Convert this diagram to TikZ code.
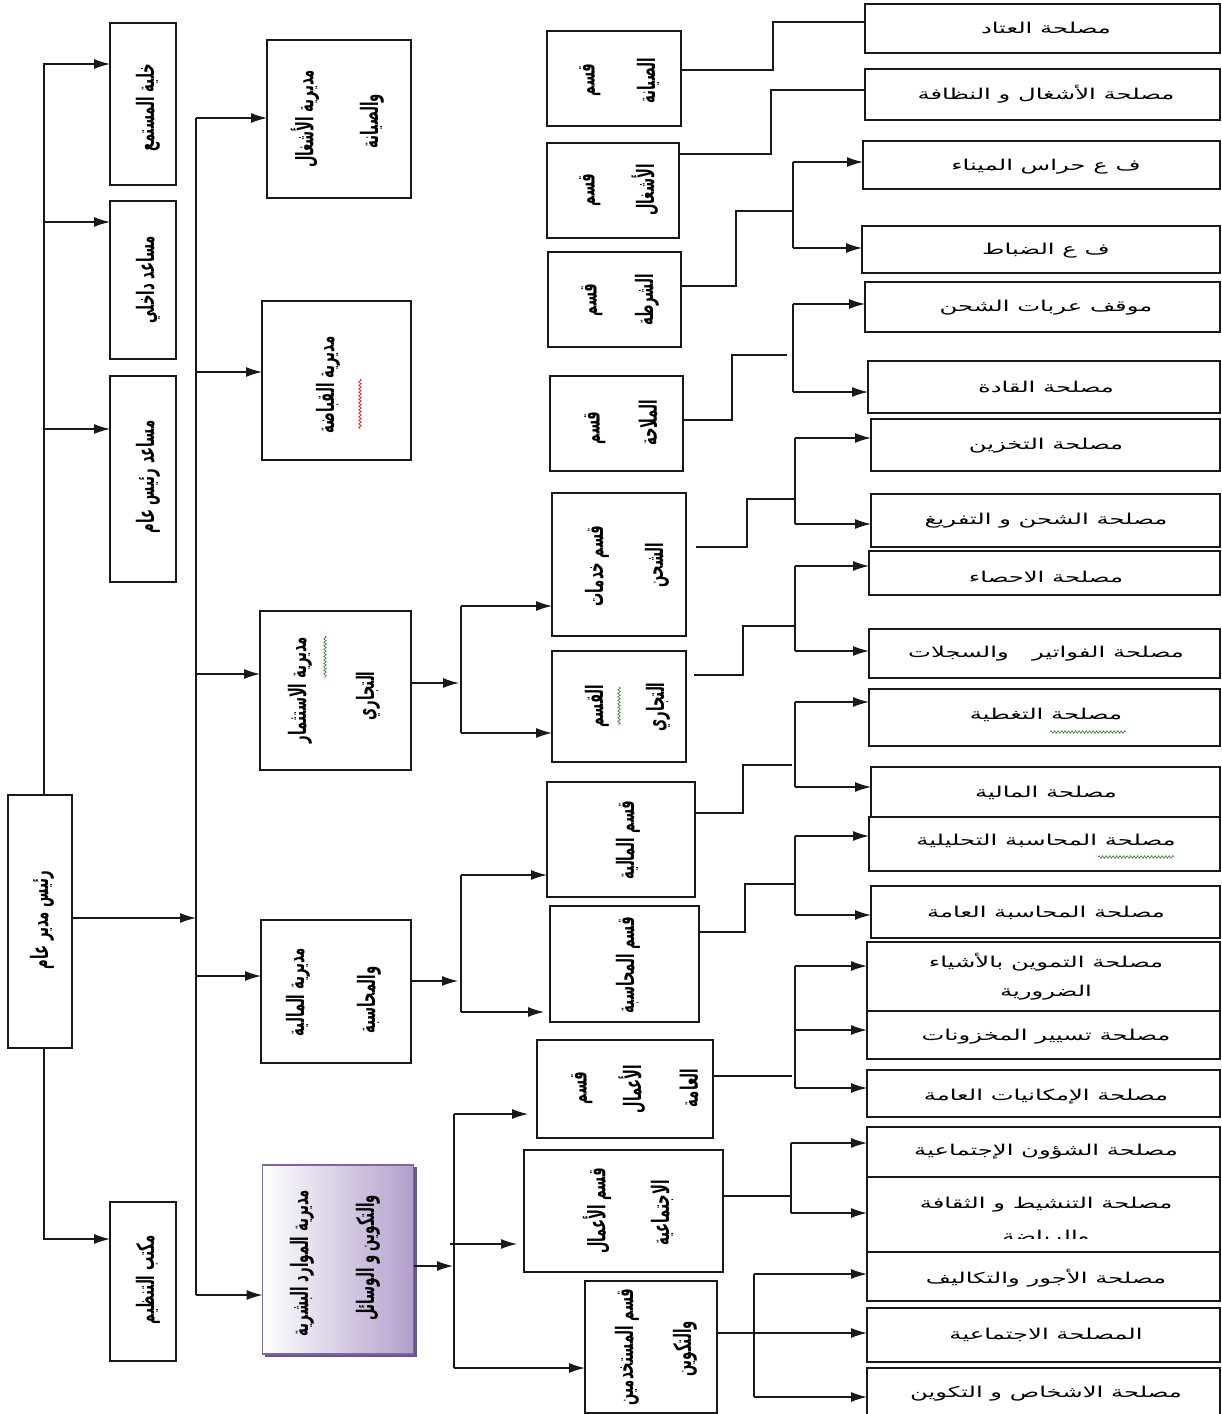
\documentclass[tikz,border=0pt]{standalone}
\usepackage{fontspec}
\usetikzlibrary{arrows.meta,decorations.pathmorphing}
\TeXXeTstate=1
\newfontfamily\arwide[Script=Arabic,FakeStretch=1.62]{DejaVu Sans}
\newfontfamily\arcond[Script=Arabic,FakeStretch=0.55]{DejaVu Sans}
\newcommand{\artxt}[1]{\beginR #1\endR}
\definecolor{linec}{RGB}{25,25,25}
\definecolor{purpfill}{RGB}{178,160,204}
\definecolor{purpedge}{RGB}{128,100,162}
\definecolor{wavegreen}{RGB}{40,130,40}
\tikzset{
  box/.style={draw=linec, line width=1.3pt, inner sep=0pt, outer sep=0pt, fill=white},
  conn/.style={draw=linec, line width=1.2pt},
  arr/.style={conn, -{Latex[length=16pt,width=10pt]}},
  vt/.style={rotate=90, inner sep=0pt, font=\arcond\bfseries\fontsize{24}{28}\selectfont},
  ht/.style={inner sep=0pt, font=\arwide\fontsize{15}{18}\selectfont},
  wavy/.style={decorate, decoration={snake, amplitude=1.3pt, segment length=3.5pt}, line width=0.6pt}
}
% \orgbox{name}{x1}{y1}{x2}{y2}
\newcommand{\orgbox}[5]{\node[box, minimum width={(#4)-(#2)}, minimum height={(#5)-(#3)}] (#1) at ({((#2)+(#4))/2},{((#3)+(#5))/2}) {};}
\begin{document}
\begin{tikzpicture}[x=1pt,y=-1pt]
\useasboundingbox (0,0) rectangle (1222,1414);
\fill[white] (0,0) rectangle (1222,1414);

% ---------- left column ----------
\orgbox{b1}{110}{23}{176}{185}
\orgbox{b2}{110}{201}{176}{359}
\orgbox{b3}{110}{376}{176}{582}
\orgbox{b4}{110}{1202}{176}{1361}
\orgbox{ceo}{8}{795}{72}{1048}
\node[vt] (tb1) at (148,108) {\artxt{خلية المستمع}};
\node[vt] (tb2) at (148,280) {\artxt{مساعد داخلي}};
\node[vt] (tb3) at (148,477) {\artxt{مساعد رئيس عام}};
\node[vt] (tb4) at (148,1280) {\artxt{مكتب التنظيم}};
\node[vt] (tceo) at (42,920) {\artxt{رئيس مدير عام}};

\coordinate (lb) at (44,0);
\draw[arr] (ceo.north -| lb) |- (b1.west |- 0,64);
\draw[arr] (44,222) -- (b2.west |- 0,222);
\draw[arr] (44,429) -- (b3.west |- 0,429);
\draw[arr] (ceo.south -| lb) |- (b4.west |- 0,1239);

% ---------- directorates ----------
\orgbox{d1}{267}{40}{411}{198}
\orgbox{d2}{262}{301}{411}{460}
\orgbox{d3}{260}{611}{411}{770}
\orgbox{d4}{261}{920}{411}{1063}
\fill[purpedge!85!black] (265,1167) rectangle (417,1357);
\node[draw=purpedge, line width=1.3pt, inner sep=0pt, outer sep=0pt,
      left color=white, right color=purpfill, minimum width=151, minimum height=189]
      (d5) at (338,1259.5) {};

\node[vt] (td1a) at (305,119) {\artxt{مديرية الأشغال}};
\node[vt] (td1b) at (372,121) {\artxt{والصيانة}};
\node[vt] (td2) at (328,385) {\artxt{مديرية القباضة}};
\draw[wavy, red] (360,379) -- (360,429);
\node[vt] (td3a) at (300,690) {\artxt{مديرية الاستثمار}};
\node[vt] (td3b) at (368,696) {\artxt{التجاري}};
\draw[wavy, wavegreen] (325,636) -- (325,678);
\node[vt] (td4a) at (298,992) {\artxt{مديرية المالية}};
\node[vt] (td4b) at (369,1000) {\artxt{والمحاسبة}};
\node[vt] (td5a) at (302,1263) {\artxt{مديرية الموارد البشرية}};
\node[vt] (td5b) at (368,1258) {\artxt{والتكوين و الوسائل}};

\draw[arr] (ceo.east |- 0,918) -- (196,918);
\coordinate (bustop) at (196,118);
\coordinate (busbot) at (196,1295);
\draw[conn] (bustop) -- (busbot);
\draw[arr] (bustop) -- (d1.west |- bustop);
\draw[arr] (196,372) -- (d2.west |- 0,372);
\draw[arr] (196,674) -- (d3.west |- 0,674);
\draw[arr] (196,976) -- (d4.west |- 0,976);
\draw[arr] (busbot) -- (d5.west |- busbot);

% ---------- sections ----------
\orgbox{m1}{547}{31}{681}{126}
\orgbox{m2}{547}{143}{679}{238}
\orgbox{m3}{548}{252}{681}{347}
\orgbox{m4}{550}{376}{683}{471}
\orgbox{m5}{552}{493}{686}{636}
\orgbox{m6}{552}{651}{686}{762}
\orgbox{m7}{547}{782}{695}{897}
\orgbox{m8}{550}{906}{699}{1022}
\orgbox{m9}{537}{1040}{713}{1138}
\orgbox{m10}{524}{1150}{723}{1272}
\orgbox{m11}{585}{1281}{717}{1413}

\node[vt] (tm1a) at (590,80) {\artxt{قسم}};
\node[vt] (tm1b) at (648,81) {\artxt{الصيانة}};
\node[vt] (tm2a) at (590,190) {\artxt{قسم}};
\node[vt] (tm2b) at (645,190) {\artxt{الأشغال}};
\node[vt] (tm3a) at (592,300) {\artxt{قسم}};
\node[vt] (tm3b) at (647,300) {\artxt{الشرطة}};
\node[vt] (tm4a) at (595,428) {\artxt{قسم}};
\node[vt] (tm4b) at (648,423) {\artxt{الملاحة}};
\node[vt] (tm5a) at (597,566) {\artxt{قسم خدمات}};
\node[vt] (tm5b) at (657,565) {\artxt{الشحن}};
\node[vt] (tm6a) at (597,706) {\artxt{القسم}};
\node[vt] (tm6b) at (658,707) {\artxt{التجاري}};
\draw[wavy, wavegreen] (619,687) -- (619,725);
\node[vt] (tm7) at (628,840) {\artxt{قسم المالية}};
\node[vt] (tm8) at (628,965) {\artxt{قسم المحاسبة}};
\node[vt] (tm9a) at (582,1088) {\artxt{قسم}};
\node[vt] (tm9b) at (632,1089) {\artxt{الأعمال}};
\node[vt] (tm9c) at (689,1088) {\artxt{العامة}};
\node[vt] (tm10a) at (597,1211) {\artxt{قسم الأعمال}};
\node[vt] (tm10b) at (662,1213) {\artxt{الاجتماعية}};
\node[vt] (tm11a) at (627,1347) {\artxt{قسم المستخدمين}};
\node[vt] (tm11b) at (685,1349) {\artxt{والتكوين}};

% directorate -> sections
\draw[arr] (d3.east |- 0,683) -- (459,683);
\draw[conn] (461,606) -- (461,733);
\draw[arr] (461,606) -- (m5.west |- 0,606);
\draw[arr] (461,733) -- (m6.west |- 0,733);
\draw[arr] (d4.east |- 0,981) -- (458,981);
\draw[conn] (461,875) -- (461,1012);
\draw[arr] (461,875) -- (m7.west |- 0,875);
\draw[arr, shorten >=6pt] (461,1012) -- (m8.west |- 0,1012);
\draw[arr] (d5.east |- 0,1266) -- (453,1266);
\draw[conn] (454,1114) -- (454,1368);
\draw[arr, shorten >=9pt] (454,1114) -- (m9.west |- 0,1114);
\draw[arr, shorten >=7pt] (450,1244) -- (m10.west |- 0,1244);
\draw[arr] (454,1368) -- (m11.west |- 0,1368);

% ---------- services ----------
\orgbox{r1}{865}{4}{1220}{53}
\orgbox{r2}{865}{69}{1220}{120}
\orgbox{r3}{863}{141}{1220}{189}
\orgbox{r4}{862}{226}{1220}{273}
\orgbox{r5}{865}{282}{1220}{332}
\orgbox{r6}{868}{361}{1220}{413}
\orgbox{r7}{871}{419}{1220}{471}
\orgbox{r8}{871}{494}{1220}{547}
\orgbox{r9}{869}{551}{1220}{595}
\orgbox{r10}{869}{629}{1220}{678}
\orgbox{r11}{869}{689}{1220}{746}
\orgbox{r12}{871}{767}{1220}{817}
\orgbox{r13}{869}{817}{1220}{871}
\orgbox{r14}{871}{886}{1220}{938}
\orgbox{r15}{867}{942}{1220}{1011}
\orgbox{r16}{867}{1011}{1220}{1059}
\orgbox{r17}{867}{1070}{1220}{1117}
\orgbox{r18}{867}{1127}{1220}{1177}
\orgbox{r19}{867}{1177}{1220}{1252}
\orgbox{r20}{867}{1252}{1220}{1301}
\orgbox{r21}{867}{1308}{1220}{1362}
\orgbox{r22}{867}{1368}{1220}{1430}

\node[ht] (tr1) at (1046,28) {\artxt{مصلحة العتاد}};
\node[ht] (tr2) at (1046,94) {\artxt{مصلحة الأشغال و النظافة}};
\node[ht] (tr3) at (1046,167) {\artxt{ف ع حراس الميناء}};
\node[ht] (tr4) at (1046,251) {\artxt{ف ع الضباط}};
\node[ht] (tr5) at (1046,308) {\artxt{موقف عربات الشحن}};
\node[ht] (tr6) at (1046,387) {\artxt{مصلحة القادة}};
\node[ht] (tr7) at (1046,446) {\artxt{مصلحة التخزين}};
\node[ht] (tr8) at (1046,521) {\artxt{مصلحة الشحن و التفريغ}};
\node[ht] (tr9) at (1046,577) {\artxt{مصلحة الاحصاء}};
\node[ht] (tr10) at (1046,654) {\artxt{مصلحة الفواتير \ \ والسجلات}};
\node[ht] (tr11) at (1046,715) {\artxt{مصلحة التغطية}};
\draw[wavy, wavegreen] (1050,732) -- (1126,732);
\node[ht] (tr12) at (1046,793) {\artxt{مصلحة المالية}};
\node[ht] (tr13) at (1046,841) {\artxt{مصلحة المحاسبة التحليلية}};
\draw[wavy, wavegreen] (1098,857) -- (1174,857);
\node[ht] (tr14) at (1046,913) {\artxt{مصلحة المحاسبة العامة}};
\node[ht] (tr15a) at (1046,962) {\artxt{مصلحة التموين بالأشياء}};
\node[ht] (tr15b) at (1046,993) {\artxt{الضرورية}};
\node[ht] (tr16) at (1046,1037) {\artxt{مصلحة تسيير المخزونات}};
\node[ht] (tr17) at (1046,1097) {\artxt{مصلحة الإمكانيات العامة}};
\node[ht] (tr18) at (1046,1152) {\artxt{مصلحة الشؤون الإجتماعية}};
\node[ht] (tr19a) at (1046,1205) {\artxt{مصلحة التنشيط و الثقافة}};
\begin{scope}
  \clip (867,1220) rectangle (1220,1238);
  \node[ht] (tr19b) at (1046,1238) {\artxt{والرياضة}};
\end{scope}
\node[ht] (tr20) at (1046,1278) {\artxt{مصلحة الأجور والتكاليف}};
\node[ht] (tr21) at (1046,1335) {\artxt{المصلحة الاجتماعية}};
\node[ht] (tr22) at (1046,1394) {\artxt{مصلحة الاشخاص و التكوين}};

% section -> services
\draw[conn] (m1.east |- 0,70) -| (773,22) -- (r1.west |- 0,22);
\draw[conn] (m2.east |- 0,154) -| (771,90) -- (r2.west |- 0,90);

\draw[conn] (m3.east |- 0,286) -| (736,211) -- (793,211);
\draw[conn] (793,162) -- (793,248);
\draw[arr] (793,162) -- (r3.west |- 0,162);
\draw[arr] (793,248) -- (r4.west |- 0,248);

\draw[conn] (m4.east |- 0,420) -| (732,355) -- (787,355);
\draw[conn] (793,304) -- (793,392);
\draw[arr] (793,304) -- (r5.west |- 0,304);
\draw[arr] (793,392) -- (r6.west |- 0,392);

\draw[conn] (696,547) -| (747,499) -- (795,499);
\draw[conn] (795,438) -- (795,524);
\draw[arr] (795,438) -- (r7.west |- 0,438);
\draw[arr] (795,524) -- (r8.west |- 0,524);

\draw[conn] (694,675) -| (743,626) -- (795,626);
\draw[conn] (795,566) -- (795,651);
\draw[arr] (795,566) -- (r9.west |- 0,566);
\draw[arr] (795,651) -- (r10.west |- 0,651);

\draw[conn] (m7.east |- 0,813) -| (743,765) -- (792,765);
\draw[conn] (795,702) -- (795,787);
\draw[arr] (795,702) -- (r11.west |- 0,702);
\draw[arr] (795,787) -- (r12.west |- 0,787);

\draw[conn] (m8.east |- 0,932) -| (745,884) -- (795,884);
\draw[conn] (795,836) -- (795,915);
\draw[arr] (795,836) -- (r13.west |- 0,836);
\draw[arr] (795,915) -- (r14.west |- 0,915);

\draw[conn] (m9.east |- 0,1076) -- (792,1076);
\draw[conn] (795,966) -- (795,1088);
\draw[arr] (795,966) -- (r15.west |- 0,966);
\draw[arr] (795,1030) -- (r16.west |- 0,1030);
\draw[arr] (795,1088) -- (r17.west |- 0,1088);

\draw[conn] (m10.east |- 0,1196) -- (791,1196);
\draw[conn] (791,1143) -- (791,1213);
\draw[arr] (791,1143) -- (r18.west |- 0,1143);
\draw[arr] (791,1213) -- (r19.west |- 0,1213);

\draw[arr] (m11.east |- 0,1333) -- (r21.west |- 0,1333);
\draw[conn] (754,1274) -- (754,1397);
\draw[arr] (754,1274) -- (r20.west |- 0,1274);
\draw[arr] (754,1397) -- (r22.west |- 0,1397);
\end{tikzpicture}
\end{document}
